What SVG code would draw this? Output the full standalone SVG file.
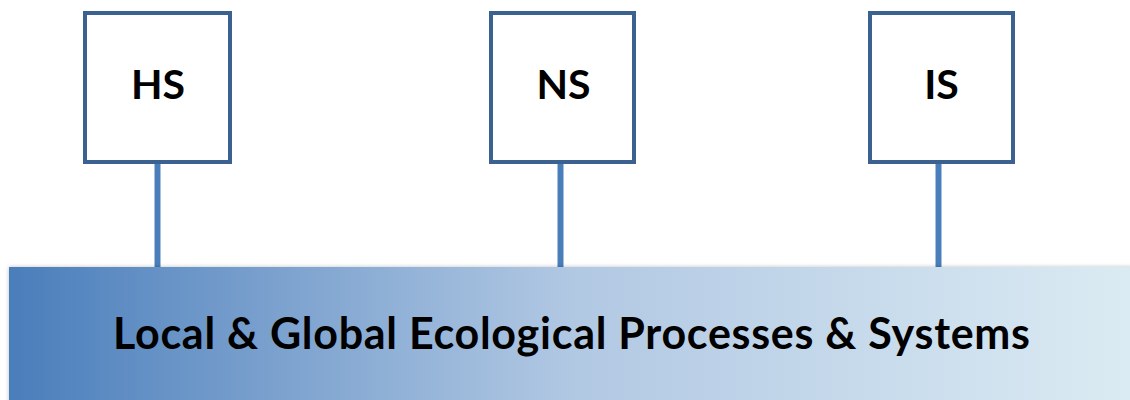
<svg xmlns="http://www.w3.org/2000/svg" width="1130" height="400" viewBox="0 0 1130 400">
  <defs>
    <linearGradient id="barFill" x1="0" y1="0" x2="1" y2="0">
      <stop offset="0" stop-color="#4a7ebb"/>
      <stop offset="0.5" stop-color="#b1c8e3"/>
      <stop offset="1" stop-color="#dbebf3"/>
    </linearGradient>
    <filter id="softShadow" x="-2%" y="-5%" width="104%" height="110%">
      <feGaussianBlur in="SourceAlpha" stdDeviation="2"/>
      <feComponentTransfer><feFuncA type="linear" slope="0.25"/></feComponentTransfer>
      <feMerge><feMergeNode/><feMergeNode in="SourceGraphic"/></feMerge>
    </filter>
    <style>
      .box { fill: #ffffff; stroke: #3a6190; stroke-width: 4; }
      .link { stroke: #4a7ebb; stroke-width: 6; fill: none; }
      .label { font-family: Lato, "Open Sans", "Liberation Sans", sans-serif; font-weight: bold; fill: #000000; text-anchor: middle; }
      .nodeLabel { font-size: 41px; }
      .barLabel { font-size: 43px; }
    </style>
  </defs>

  <!-- connectors from each system to the shared base -->
  <g id="connectors">
    <line class="link" x1="157.5" y1="164" x2="157.5" y2="268"/>
    <line class="link" x1="560.5" y1="164" x2="560.5" y2="268"/>
    <line class="link" x1="938.5" y1="164" x2="938.5" y2="268"/>
  </g>

  <g id="node-HS">
    <rect class="box" x="85" y="13" width="145" height="149"/>
    <text class="label nodeLabel" x="158" y="99">HS</text>
  </g>

  <g id="node-NS">
    <rect class="box" x="491" y="13" width="143" height="149"/>
    <text class="label nodeLabel" x="563.5" y="99">NS</text>
  </g>

  <g id="node-IS">
    <rect class="box" x="870" y="13" width="143" height="149"/>
    <text class="label nodeLabel" x="941.5" y="99">IS</text>
  </g>

  <g id="node-base">
    <rect x="9" y="267" width="1125" height="140" fill="url(#barFill)" filter="url(#softShadow)"/>
    <text class="label barLabel" x="571.5" y="349" textLength="917" lengthAdjust="spacing">Local &amp; Global Ecological Processes &amp; Systems</text>
  </g>
</svg>
